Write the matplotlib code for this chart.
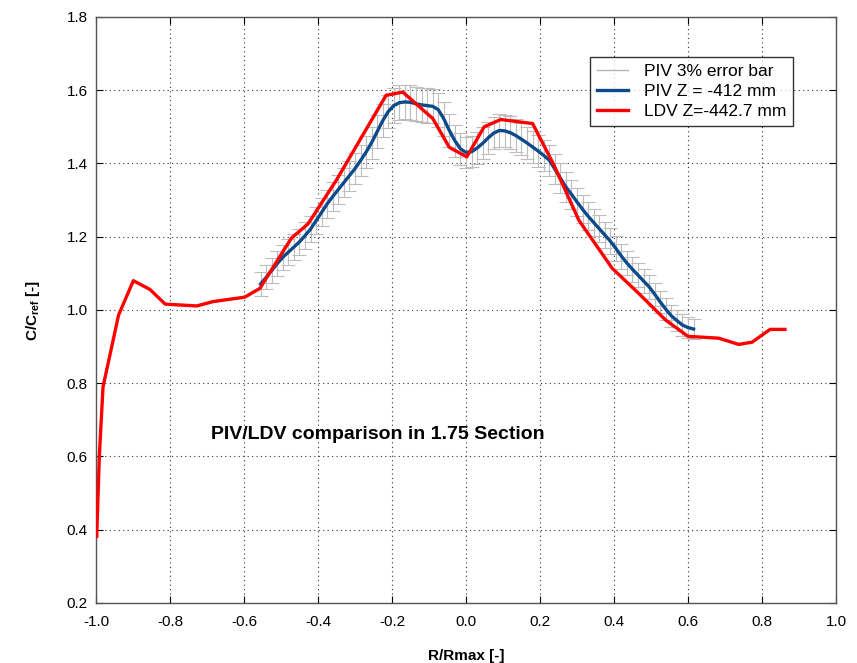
import matplotlib
matplotlib.use("Agg")
import matplotlib.pyplot as plt
from matplotlib.lines import Line2D

plt.rcParams['font.family'] = ['Liberation Sans', 'DejaVu Sans']
plt.rcParams['mathtext.fontset'] = 'custom'
plt.rcParams['mathtext.rm'] = 'Liberation Sans'
plt.rcParams['mathtext.bf'] = 'Liberation Sans:bold'

# PIV data (Z = -412 mm)
piv_x = [-0.555, -0.540, -0.525, -0.510, -0.495, -0.480, -0.465, -0.450, -0.435, -0.420,
         -0.405, -0.390, -0.375, -0.360, -0.345, -0.330, -0.315, -0.300, -0.285, -0.270,
         -0.255, -0.240, -0.225, -0.210, -0.195, -0.180, -0.165, -0.150, -0.135, -0.120,
         -0.105, -0.090, -0.075, -0.060, -0.045, -0.030, -0.015, 0.000, 0.015, 0.030,
         0.045, 0.060, 0.075, 0.090, 0.105, 0.120, 0.135, 0.150, 0.165, 0.180,
         0.195, 0.210, 0.225, 0.240, 0.255, 0.270, 0.285, 0.300, 0.315, 0.330,
         0.345, 0.360, 0.375, 0.390, 0.405, 0.420, 0.435, 0.450, 0.465, 0.480,
         0.495, 0.510, 0.525, 0.540, 0.555, 0.570, 0.585, 0.600, 0.615]
piv_y = [1.071, 1.089, 1.108, 1.127, 1.144, 1.158, 1.172, 1.186, 1.203, 1.221,
         1.244, 1.267, 1.290, 1.310, 1.329, 1.348, 1.367, 1.386, 1.408, 1.431,
         1.457, 1.487, 1.517, 1.542, 1.558, 1.566, 1.568, 1.567, 1.563, 1.560,
         1.558, 1.556, 1.547, 1.522, 1.490, 1.462, 1.440, 1.430, 1.432, 1.442,
         1.455, 1.470, 1.483, 1.490, 1.489, 1.484, 1.476, 1.466, 1.456, 1.445,
         1.434, 1.422, 1.409, 1.385, 1.360, 1.336, 1.316, 1.295, 1.275, 1.256,
         1.239, 1.222, 1.205, 1.188, 1.168, 1.147, 1.128, 1.111, 1.095, 1.079,
         1.063, 1.043, 1.022, 1.002, 0.984, 0.971, 0.959, 0.952, 0.948]
err_frac = 0.03

# LDV data (Z = -442.7 mm)
ldv_x = [-0.998, -0.991, -0.981, -0.939, -0.899, -0.854, -0.813, -0.728, -0.683, -0.598,
         -0.557, -0.472, -0.427, -0.350, -0.216, -0.171, -0.090, -0.045, 0.002, 0.049,
         0.094, 0.180, 0.238, 0.305, 0.395, 0.467, 0.539, 0.600, 0.683, 0.737,
         0.773, 0.822, 0.862]
ldv_y = [0.382, 0.600, 0.790, 0.986, 1.080, 1.056, 1.016, 1.011, 1.023, 1.035,
         1.059, 1.196, 1.235, 1.355, 1.586, 1.595, 1.523, 1.444, 1.418, 1.500,
         1.520, 1.509, 1.395, 1.245, 1.114, 1.045, 0.973, 0.928, 0.923, 0.906,
         0.912, 0.947, 0.947]

x_ticks = [-1.0, -0.8, -0.6, -0.4, -0.2, 0.0, 0.2, 0.4, 0.6, 0.8, 1.0]
y_ticks = [0.2, 0.4, 0.6, 0.8, 1.0, 1.2, 1.4, 1.6, 1.8]
legend_labels = ['PIV 3% error bar', 'PIV Z = -412 mm', 'LDV Z=-442.7 mm']

fig = plt.figure(figsize=(8.57, 6.63), dpi=100)
ax = fig.add_axes([0.112, 0.0905, 0.8635, 0.8839])

piv_err = [v * err_frac for v in piv_y]
ax.errorbar(piv_x, piv_y, yerr=piv_err, fmt='none', ecolor='#bdbdbd',
            elinewidth=0.8, capsize=5, capthick=0.8, zorder=2)
piv_line, = ax.plot(piv_x, piv_y, color='#0b4a8b', lw=2.4, zorder=3)
ldv_line, = ax.plot(ldv_x, ldv_y, color='#ff0000', lw=2.4, zorder=4)

ax.set_xlim(-1.0, 1.0)
ax.set_ylim(0.2, 1.8)
ax.set_xticks(x_ticks)
ax.set_yticks(y_ticks)
ax.set_xticklabels([f'{t:.1f}' for t in x_ticks])
ax.set_yticklabels([f'{t:.1f}' for t in y_ticks])
ax.tick_params(direction='in', labelsize=11, length=5, top=True, right=True,
               labeltop=False, labelright=False)
ax.tick_params(axis='x', pad=9)
ax.tick_params(axis='y', pad=6)
ax.grid(True, linestyle=(0, (1, 3)), color='#333333', linewidth=0.8)
for s in ax.spines.values():
    s.set_color('#555555')
    s.set_linewidth(1.0)

ax.set_xlabel('R/Rmax [-]', fontsize=11, fontweight='bold', labelpad=14)
ax.set_ylabel(r'C/C$_{\mathbf{ref}}$ [-]', fontsize=11, fontweight='bold', labelpad=18)

ax.text(-0.69, 0.659, 'PIV/LDV comparison in 1.75 Section', fontsize=14,
        fontweight='bold', va='center', ha='left')

h0 = Line2D([], [], color='#b4b4b4', lw=1.0)
leg = ax.legend([h0, piv_line, ldv_line], legend_labels,
                loc='upper right', bbox_to_anchor=(0.942, 0.932), fontsize=12.5,
                frameon=True, fancybox=False, edgecolor='black',
                handlelength=1.8, handletextpad=0.9, borderpad=0.4,
                labelspacing=0.28, borderaxespad=0.0)
leg.get_frame().set_linewidth(1.0)

fig.savefig('out.png', dpi=100, facecolor='white')
